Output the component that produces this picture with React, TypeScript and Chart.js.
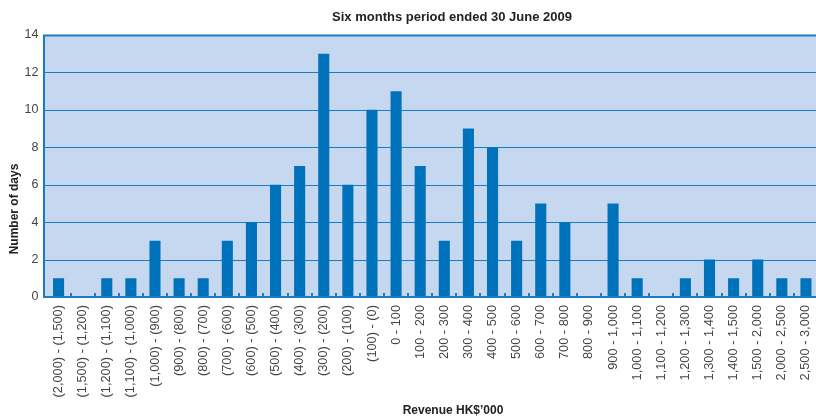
import React, { useEffect, useRef } from 'react';
import { Chart, registerables } from 'chart.js';

Chart.register(...registerables);

const categories = [
  '(2,000) - (1,500)', '(1,500) - (1,200)', '(1,200) - (1,100)', '(1,100) - (1,000)',
  '(1,000) - (900)', '(900) - (800)', '(800) - (700)', '(700) - (600)', '(600) - (500)',
  '(500) - (400)', '(400) - (300)', '(300) - (200)', '(200) - (100)', '(100) - (0)',
  '0 - 100', '100 - 200', '200 - 300', '300 - 400', '400 - 500', '500 - 600', '600 - 700',
  '700 - 800', '800 - 900', '900 - 1,000', '1,000 - 1,100', '1,100 - 1,200', '1,200 - 1,300',
  '1,300 - 1,400', '1,400 - 1,500', '1,500 - 2,000', '2,000 - 2,500', '2,500 - 3,000',
];

const days = [1, 0, 1, 1, 3, 1, 1, 3, 4, 6, 7, 13, 6, 10, 11, 7, 3, 9, 8, 3, 5, 4, 0, 5, 1, 0, 1, 2, 1, 2, 1, 1];

const yTicks = [0, 2, 4, 6, 8, 10, 12, 14];

const chartTitle = 'Six months period ended 30 June 2009';
const xTitle = 'Revenue HK$\u2019000';
const yTitle = 'Number of days';

const FONT = '"Liberation Sans", Arial, Helvetica, sans-serif';
const BG = '#c6d8ef';
const BLUE = '#1a7cc4';
const BAR = '#0072bc';

const framePlugin = {
  id: 'frame',
  beforeDraw(chart: any) {
    const { ctx, chartArea, scales } = chart;
    const { top, bottom, right } = chartArea;
    const left = 43;
    ctx.save();
    ctx.fillStyle = BG;
    ctx.fillRect(left, top, right - left, bottom - top);
    ctx.strokeStyle = BLUE;
    yTicks.forEach((v) => {
      const y = Math.round(scales.y.getPixelForValue(v));
      if (v === 0) return;
      ctx.lineWidth = v === yTicks[yTicks.length - 1] ? 2 : 1.2;
      ctx.beginPath();
      ctx.moveTo(left, y + 0.5);
      ctx.lineTo(right, y + 0.5);
      ctx.stroke();
    });
    ctx.lineWidth = 2;
    ctx.beginPath();
    ctx.moveTo(left + 1, top);
    ctx.lineTo(left + 1, bottom);
    ctx.stroke();
    ctx.restore();
  },
  afterDatasetsDraw(chart: any) {
    const { ctx, chartArea, scales } = chart;
    const { bottom, right } = chartArea;
    const left = 43;
    const xs = scales.x;
    ctx.save();
    ctx.strokeStyle = BLUE;
    ctx.lineWidth = 2;
    ctx.beginPath();
    ctx.moveTo(left, bottom);
    ctx.lineTo(right, bottom);
    ctx.stroke();
    for (let i = 0; i < categories.length - 1; i++) {
      const x = Math.round((xs.getPixelForValue(i) + xs.getPixelForValue(i + 1)) / 2);
      ctx.beginPath();
      ctx.moveTo(x, bottom);
      ctx.lineTo(x, bottom - 4);
      ctx.stroke();
    }
    ctx.restore();
  },
  afterDraw(chart: any) {
    const { ctx } = chart;
    ctx.save();
    ctx.fillStyle = '#222222';
    ctx.textAlign = 'center';
    ctx.textBaseline = 'middle';
    ctx.font = `bold 13px ${FONT}`;
    ctx.fillText(chartTitle, 452, 17);
    ctx.font = `bold 12px ${FONT}`;
    ctx.fillText(xTitle, 453, 411);
    ctx.translate(15, 209);
    ctx.rotate(-Math.PI / 2);
    ctx.fillText(yTitle, 0, 0);
    ctx.restore();
  },
};

export default function App() {
  const ref = useRef<HTMLCanvasElement>(null);

  useEffect(() => {
    if (!ref.current) return;
    const chart = new Chart(ref.current, {
      type: 'bar',
      data: {
        labels: categories,
        datasets: [
          {
            data: days,
            backgroundColor: BAR,
            borderWidth: 0,
            barPercentage: 0.46,
            categoryPercentage: 1,
          },
        ],
      },
      options: {
        responsive: false,
        animation: false,
        layout: { padding: { top: 35, left: 0, right: 0, bottom: 0 } },
        plugins: {
          legend: { display: false },
          title: { display: false },
          tooltip: { enabled: false },
        },
        scales: {
          x: {
            grid: { display: false, drawTicks: false },
            border: { display: false },
            ticks: {
              autoSkip: false,
              maxRotation: 90,
              minRotation: 90,
              padding: 8,
              color: '#444444',
              font: { family: FONT, size: 12.8 },
            },
            afterFit(scale: any) {
              scale.height = 121;
              scale.paddingLeft = 0;
              scale.paddingRight = 0;
            },
          },
          y: {
            min: 0,
            max: 14,
            grid: { display: false, drawTicks: false },
            border: { display: false },
            ticks: {
              stepSize: 2,
              padding: 8,
              color: '#444444',
              font: { family: FONT, size: 12.5 },
            },
            afterFit(scale: any) {
              scale.width = 46.5;
              scale.paddingTop = 0;
              scale.paddingBottom = 0;
            },
          },
        },
      },
      plugins: [framePlugin],
    });
    return () => chart.destroy();
  }, []);

  return (
    <div style={{ position: 'fixed', left: 0, top: 0, width: 816, height: 418, overflow: 'hidden', background: '#fff' }}>
      <canvas ref={ref} width={818} height={418} style={{ display: 'block', width: 818, height: 418 }} />
    </div>
  );
}
